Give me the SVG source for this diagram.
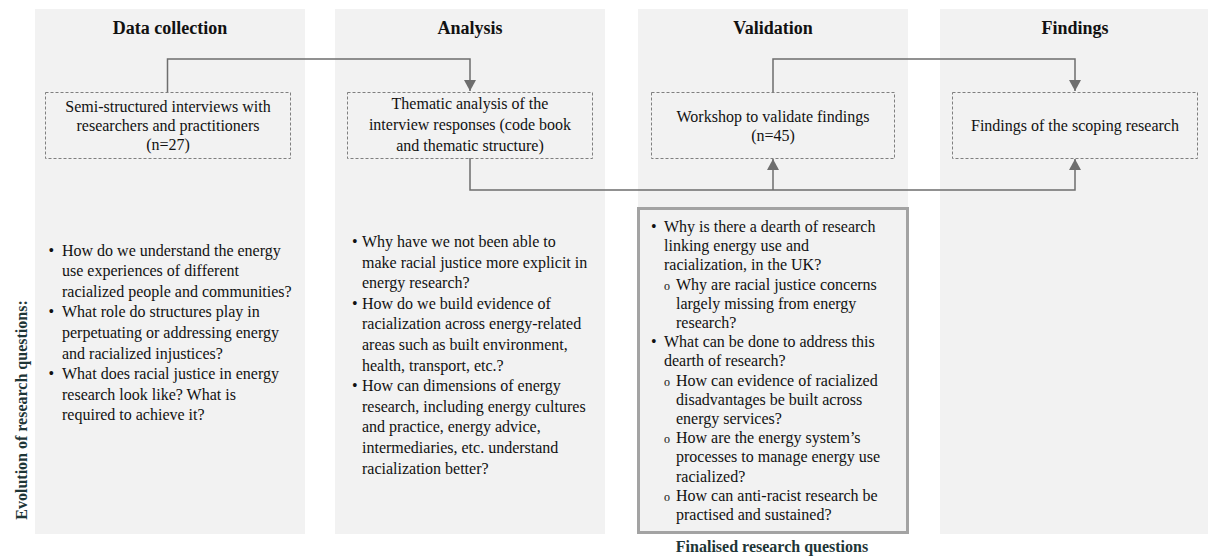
<svg xmlns="http://www.w3.org/2000/svg" width="1208" height="556" viewBox="0 0 1208 556">
<defs>
<style>
.panel{fill:#f2f2f2;stroke:none}
.title{font-family:"Liberation Serif","Times New Roman",serif;font-weight:bold;font-size:18px;fill:#111;text-anchor:middle}
.node{fill:none;stroke:#7f7f7f;stroke-width:1;stroke-dasharray:3 2}
.nt{font-family:"Liberation Serif","Times New Roman",serif;font-size:16px;fill:#111;text-anchor:middle}
.bt{font-family:"Liberation Serif","Times New Roman",serif;font-size:16px;fill:#111}
.sb{font-family:"Liberation Serif","Times New Roman",serif;font-size:12px;fill:#111}
.lbl{font-family:"Liberation Serif","Times New Roman",serif;font-weight:bold;font-size:16px;fill:#1e3536}
.conn{fill:none;stroke:#6e6e6e;stroke-width:1.5}
</style>
<marker id="arr" markerUnits="userSpaceOnUse" markerWidth="12" markerHeight="12" viewBox="0 0 12 12" refX="11" refY="6" orient="auto">
<path d="M0,0 L11,6 L0,12 Z" fill="#6e6e6e"/>
</marker>
</defs>
<rect width="1208" height="556" fill="#ffffff"/>

<g id="panels">
<rect class="panel" x="35" y="9" width="270" height="525"/>
<rect class="panel" x="335" y="9" width="270" height="525"/>
<rect class="panel" x="638" y="9" width="270" height="525"/>
<rect class="panel" x="940" y="9" width="268" height="525"/>
<text class="title" x="170" y="33.5">Data collection</text>
<text class="title" x="470" y="33.5">Analysis</text>
<text class="title" x="773" y="33.5">Validation</text>
<text class="title" x="1075" y="33.5">Findings</text>
</g>

<g id="connectors">
<path class="conn" d="M167.5,92 V59 H470 V91" marker-end="url(#arr)"/>
<path class="conn" d="M470,158 V190 H1075 V159" marker-end="url(#arr)"/>
<path class="conn" d="M773,190 V159" marker-end="url(#arr)"/>
<path class="conn" d="M773,92 V59 H1075 V91" marker-end="url(#arr)"/>
</g>

<g id="node-interviews">
<rect class="node" x="45.5" y="92.5" width="245" height="66"/>
<text class="nt" x="168" y="112">Semi-structured interviews with</text>
<text class="nt" x="168" y="131">researchers and practitioners</text>
<text class="nt" x="168" y="150">(n=27)</text>
</g>

<g id="node-thematic">
<rect class="node" x="347.5" y="92.5" width="245" height="66"/>
<text class="nt" x="470" y="109">Thematic analysis of the</text>
<text class="nt" x="470" y="130">interview responses (code book</text>
<text class="nt" x="470" y="151">and thematic structure)</text>
</g>

<g id="node-workshop">
<rect class="node" x="651.5" y="92.5" width="243" height="66"/>
<text class="nt" x="773" y="122">Workshop to validate findings</text>
<text class="nt" x="773" y="141">(n=45)</text>
</g>

<g id="node-findings">
<rect class="node" x="952.5" y="92.5" width="245" height="66"/>
<text class="nt" x="1075" y="131">Findings of the scoping research</text>
</g>

<g id="questions-data">
<text class="bt" x="48.5" y="255.5">•</text>
<text class="bt" x="62" y="255.5">How do we understand the energy</text>
<text class="bt" x="62" y="276.1">use experiences of different</text>
<text class="bt" x="62" y="296.7">racialized people and communities?</text>
<text class="bt" x="48.5" y="317.3">•</text>
<text class="bt" x="62" y="317.3">What role do structures play in</text>
<text class="bt" x="62" y="337.9">perpetuating or addressing energy</text>
<text class="bt" x="62" y="358.5">and racialized injustices?</text>
<text class="bt" x="48.5" y="379.1">•</text>
<text class="bt" x="62" y="379.1">What does racial justice in energy</text>
<text class="bt" x="62" y="399.7">research look like? What is</text>
<text class="bt" x="62" y="420.3">required to achieve it?</text>
</g>

<g id="questions-analysis">
<text class="bt" x="352" y="247">•</text>
<text class="bt" x="362" y="247">Why have we not been able to</text>
<text class="bt" x="362" y="267.6">make racial justice more explicit in</text>
<text class="bt" x="362" y="288.2">energy research?</text>
<text class="bt" x="352" y="308.8">•</text>
<text class="bt" x="362" y="308.8">How do we build evidence of</text>
<text class="bt" x="362" y="329.4">racialization across energy-related</text>
<text class="bt" x="362" y="350">areas such as built environment,</text>
<text class="bt" x="362" y="370.6">health, transport, etc.?</text>
<text class="bt" x="352" y="391.2">•</text>
<text class="bt" x="362" y="391.2">How can dimensions of energy</text>
<text class="bt" x="362" y="411.8">research, including energy cultures</text>
<text class="bt" x="362" y="432.4">and practice, energy advice,</text>
<text class="bt" x="362" y="453">intermediaries, etc. understand</text>
<text class="bt" x="362" y="473.6">racialization better?</text>
</g>

<g id="questions-final">
<rect x="638.5" y="208.5" width="269" height="324" fill="#f2f2f2" stroke="#a3a3a3" stroke-width="3"/>
<text class="bt" x="651" y="232">•</text>
<text class="bt" x="664" y="232">Why is there a dearth of research</text>
<text class="bt" x="664" y="251.2">linking energy use and</text>
<text class="bt" x="664" y="270.4">racialization, in the UK?</text>
<text class="sb" x="664" y="289.6">o</text>
<text class="bt" x="676" y="289.6">Why are racial justice concerns</text>
<text class="bt" x="676" y="308.8">largely missing from energy</text>
<text class="bt" x="676" y="328">research?</text>
<text class="bt" x="651" y="347.2">•</text>
<text class="bt" x="664" y="347.2">What can be done to address this</text>
<text class="bt" x="664" y="366.4">dearth of research?</text>
<text class="sb" x="664" y="385.6">o</text>
<text class="bt" x="676" y="385.6">How can evidence of racialized</text>
<text class="bt" x="676" y="404.8">disadvantages be built across</text>
<text class="bt" x="676" y="424">energy services?</text>
<text class="sb" x="664" y="443.2">o</text>
<text class="bt" x="676" y="443.2">How are the energy system’s</text>
<text class="bt" x="676" y="462.4">processes to manage energy use</text>
<text class="bt" x="676" y="481.6">racialized?</text>
<text class="sb" x="664" y="500.8">o</text>
<text class="bt" x="676" y="500.8">How can anti-racist research be</text>
<text class="bt" x="676" y="520">practised and sustained?</text>
</g>

<g id="labels">
<text class="lbl" text-anchor="middle" transform="translate(27,410) rotate(-90)">Evolution of research questions:</text>
<text class="lbl" text-anchor="middle" x="772" y="552">Finalised research questions</text>
</g>
</svg>
